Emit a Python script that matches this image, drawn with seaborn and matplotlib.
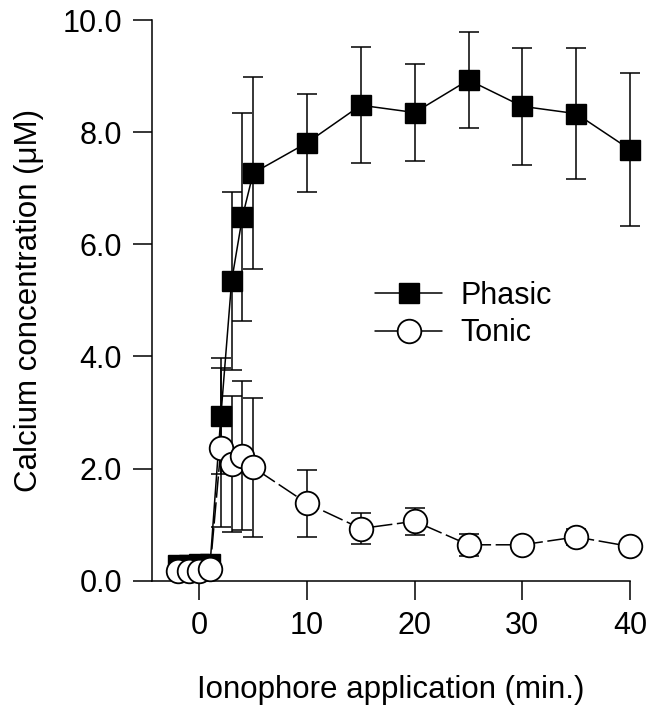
import pandas as pd
import matplotlib.pyplot as plt
import seaborn as sns

# Values (mean +/- error)
time_min = [-2, -1, 0, 1, 2, 3, 4, 5, 10, 15, 20, 25, 30, 35, 40]
phasic = [0.28, 0.28, 0.30, 0.30, 2.94, 5.35, 6.49, 7.27, 7.81, 8.48, 8.35, 8.93, 8.46, 8.33, 7.69]
phasic_err = [0.05, 0.05, 0.05, 0.05, 1.03, 1.59, 1.85, 1.71, 0.87, 1.03, 0.86, 0.86, 1.04, 1.17, 1.37]
tonic = [0.18, 0.18, 0.18, 0.21, 2.37, 2.08, 2.23, 2.02, 1.38, 0.93, 1.06, 0.64, 0.64, 0.78, 0.61]
tonic_err = [0.03, 0.03, 0.03, 0.03, 1.42, 1.22, 1.33, 1.24, 0.60, 0.28, 0.24, 0.20, 0.08, 0.15, 0.08]

x_ticks = [0, 10, 20, 30, 40]
y_ticks = [0, 2, 4, 6, 8, 10]

df = pd.DataFrame({"Time": time_min, "Phasic": phasic, "Tonic": tonic})

sns.set_style("ticks")
plt.rcParams["font.family"] = ["Liberation Sans", "DejaVu Sans"]
plt.rcParams["text.color"] = "black"
plt.rcParams["axes.labelcolor"] = "black"

fig = plt.figure(figsize=(6.52, 7.2), dpi=100)
ax = fig.add_axes([0.2331, 0.1935, 0.7332, 0.7787])

lw = 1.1

# Error bars behind the markers
ax.errorbar(df["Time"], df["Phasic"], yerr=phasic_err, fmt="none", ecolor="black",
            elinewidth=lw, capsize=7, capthick=lw, zorder=1, clip_on=False)
ax.errorbar(df["Time"], df["Tonic"], yerr=tonic_err, fmt="none", ecolor="black",
            elinewidth=lw, capsize=7, capthick=lw, zorder=1, clip_on=False)

sns.lineplot(data=df, x="Time", y="Phasic", ax=ax, color="black", linewidth=lw,
             marker="s", markersize=15, markerfacecolor="black",
             markeredgecolor="black", markeredgewidth=1, label="Phasic",
             errorbar=None, zorder=2, clip_on=False)
sns.lineplot(data=df, x="Time", y="Tonic", ax=ax, color="black", linewidth=lw,
             linestyle=(0, (14, 3)), marker="o", markersize=17,
             markerfacecolor="white", markeredgecolor="black", markeredgewidth=1.3,
             label="Tonic", errorbar=None, zorder=3, clip_on=False)

ax.set_xlim(-4.4, 40)
ax.set_ylim(0, 10)
ax.set_xticks(x_ticks)
ax.set_yticks(y_ticks)
ax.set_yticklabels([f"{v:.1f}" for v in y_ticks])
ax.tick_params(direction="out", length=13.5, width=lw, labelsize=22, pad=8,
               color="black", labelcolor="black")
for side in ["top", "right"]:
    ax.spines[side].set_visible(False)
for side in ["left", "bottom"]:
    ax.spines[side].set_linewidth(lw)
    ax.spines[side].set_color("black")

ax.set_xlabel("Ionophore application (min.)", fontsize=22.5, labelpad=25)
ax.set_ylabel("Calcium concentration (\u03bcM)", fontsize=22.5, labelpad=13)

leg = ax.legend(loc="center left", bbox_to_anchor=(0.4665, 0.4748), frameon=False,
                fontsize=22, handlelength=2.2, handletextpad=0.6, labelspacing=0.25,
                borderpad=0, borderaxespad=0)
# legend handle for Tonic looks solid in the reference
for line in leg.get_lines():
    line.set_linestyle("-")

fig.savefig("out.png", dpi=100)
